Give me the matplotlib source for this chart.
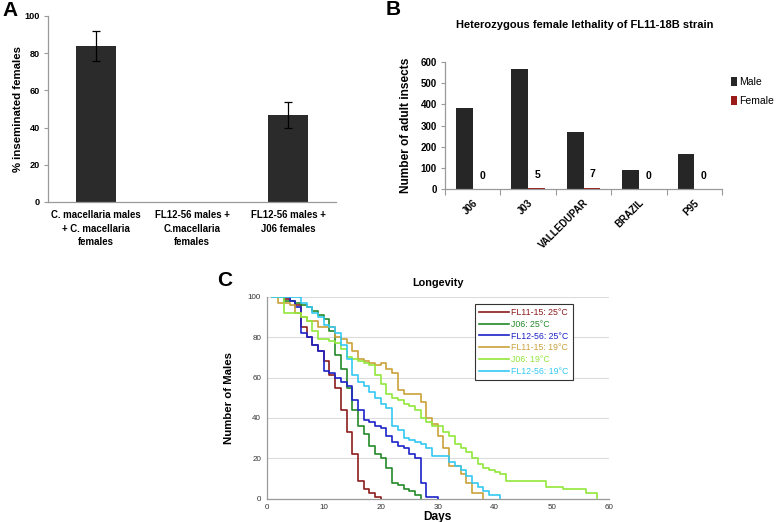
import matplotlib
matplotlib.use("Agg")
import matplotlib.pyplot as plt

plt.rcParams['font.family'] = ['Liberation Sans', 'DejaVu Sans']

# ---------------- Panel A data ----------------
a_categories = ["C. macellaria males\n+ C. macellaria\nfemales",
                "FL12-56 males +\nC.macellaria\nfemales",
                "FL12-56 males +\nJ06 females"]
a_values = [84, 0, 47]
a_errors = [8, 0, 7]
a_yticks = [0, 20, 40, 60, 80, 100]

# ---------------- Panel B data ----------------
b_categories = ["J06", "J03", "VALLEDUPAR", "BRAZIL", "P95"]
b_male = [380, 565, 271, 91, 166]
b_female = [0, 5, 7, 0, 0]
b_yticks = [0, 100, 200, 300, 400, 500, 600]

# ---------------- Panel C data ----------------
c_labels = ["FL11-15: 25°C", "J06: 25°C", "FL12-56: 25°C",
            "FL11-15: 19°C", "J06: 19°C", "FL12-56: 19°C"]
c_colors = ["#8b1c1c", "#248a2a", "#1c22c8", "#c9a23a", "#92e83c", "#33c8f2"]

fl1115_25_days = [1, 3, 4, 5, 6, 7, 8, 9, 10, 11, 12, 13, 14, 15, 16, 17, 18, 19, 20]
fl1115_25_vals = [100, 99, 98, 96, 85, 80, 76, 73, 68, 61, 55, 44, 33, 22, 9, 5, 3, 1, 0]

j06_25_days = [1, 3, 5, 6, 7, 8, 9, 10, 11, 12, 13, 14, 15, 16, 17, 18, 19, 20, 21, 22, 23, 24, 25, 26, 27]
j06_25_vals = [100, 98, 97, 96, 95, 93, 91, 89, 83, 71, 64, 55, 44, 36, 32, 26, 22, 20, 15, 8, 7, 5, 4, 2, 0]

fl1256_25_days = [1, 4, 5, 6, 7, 8, 9, 10, 11, 12, 13, 14, 15, 16, 17, 18, 19, 20, 21, 22, 23, 24, 25, 26, 27, 28, 30]
fl1256_25_vals = [100, 98, 95, 82, 80, 76, 73, 63, 62, 60, 58, 56, 49, 44, 39, 38, 36, 35, 31, 28, 26, 25, 22, 20, 8, 1, 0]

fl1115_19_days = [1, 2, 4, 5, 6, 7, 9, 12, 13, 14, 15, 16, 17, 18, 19, 20, 21, 22, 23, 24, 27, 28, 29, 30, 31, 32, 34, 35, 36, 38]
fl1115_19_vals = [100, 97, 96, 92, 90, 88, 85, 80, 79, 77, 73, 69, 68, 67, 66, 67, 64, 62, 54, 52, 48, 40, 37, 31, 25, 16, 12, 8, 3, 0]

j06_19_days = [1, 3, 6, 7, 8, 9, 11, 12, 13, 14, 15, 16, 17, 18, 19, 20, 21, 22, 23, 24, 25, 26, 27, 28, 29, 31, 32, 33, 34, 35, 36, 37, 38, 39, 40, 41, 42, 49, 52, 56, 58]
j06_19_vals = [100, 92, 90, 88, 83, 79, 78, 77, 74, 70, 69, 68, 67, 66, 61, 57, 52, 50, 49, 47, 46, 44, 40, 38, 36, 33, 31, 27, 25, 23, 20, 17, 15, 14, 13, 12, 9, 6, 5, 3, 0]

fl1256_19_days = [1, 6, 7, 8, 9, 10, 11, 12, 13, 14, 15, 16, 17, 18, 19, 20, 21, 22, 23, 24, 25, 26, 27, 28, 29, 32, 33, 34, 35, 36, 37, 38, 39, 41]
fl1256_19_vals = [100, 97, 95, 92, 90, 86, 85, 82, 76, 69, 61, 58, 56, 53, 50, 47, 45, 36, 34, 30, 29, 28, 27, 25, 21, 18, 16, 14, 11, 8, 6, 4, 2, 0]

c_series = [(fl1115_25_days, fl1115_25_vals), (j06_25_days, j06_25_vals),
            (fl1256_25_days, fl1256_25_vals), (fl1115_19_days, fl1115_19_vals),
            (j06_19_days, j06_19_vals), (fl1256_19_days, fl1256_19_vals)]
c_xticks = [0, 10, 20, 30, 40, 50, 60]
c_yticks = [0, 20, 40, 60, 80, 100]

W, H = 777, 522
fig = plt.figure(figsize=(W / 100, H / 100), dpi=100)


def ax_rect(l, t, r, b):
    return [l / W, 1 - b / H, (r - l) / W, (b - t) / H]


spine_gray = "#9a9a9a"

# ---------------- Panel A ----------------
axA = fig.add_axes(ax_rect(48, 16, 336, 202))
xa = list(range(len(a_categories)))
axA.bar(xa, a_values, width=0.41, color="#2b2b2b", zorder=2)
for x, v, e in zip(xa, a_values, a_errors):
    if v > 0:
        axA.errorbar(x, v, yerr=e, fmt='none', ecolor='black', elinewidth=0.9,
                     capsize=3, capthick=0.9, zorder=3)
axA.set_xlim(-0.5, 2.5)
axA.set_ylim(0, 100)
axA.set_yticks(a_yticks)
axA.set_xticks(xa)
axA.set_xticklabels(a_categories, fontsize=6.9, fontweight='bold', linespacing=1.4)
axA.tick_params(axis='y', labelsize=6.6, length=3, color=spine_gray, width=0.8, pad=3)
axA.tick_params(axis='x', length=0, pad=6)
for lab in axA.get_yticklabels():
    lab.set_fontweight('bold')
for s in ['top', 'right']:
    axA.spines[s].set_visible(False)
for s in ['left', 'bottom']:
    axA.spines[s].set_color(spine_gray)
    axA.spines[s].set_linewidth(0.9)
axA.set_ylabel("% inseminated females", fontsize=8.2, fontweight='bold', labelpad=1)
fig.text(2 / W, 1 - 1 / H, "A", fontsize=15, fontweight='bold', va='top', ha='left')

# ---------------- Panel B ----------------
axB = fig.add_axes(ax_rect(445, 61.7, 722, 189.3))
xb = list(range(len(b_categories)))
bw = 0.3
axB.bar([x - bw / 2 for x in xb], b_male, width=bw, color="#262626", label="Male", zorder=2)
axB.bar([x + bw / 2 for x in xb], b_female, width=bw, color="#9b1b1b", label="Female", zorder=2)
for x, v in zip(xb, b_female):
    axB.text(x + bw / 2 + 0.02, v + 40, str(v), ha='center', va='bottom',
             fontsize=7.5, fontweight='bold')
axB.set_xlim(-0.5, 4.5)
axB.set_ylim(0, 600)
axB.set_yticks(b_yticks)
axB.set_xticks(xb)
axB.set_xticklabels(b_categories, rotation=45, ha='right', rotation_mode='anchor',
                    fontsize=7, fontweight='bold')
axB.set_xticks([x - 0.5 for x in range(len(b_categories) + 1)], minor=True)
axB.tick_params(axis='x', which='major', length=0, pad=6)
axB.tick_params(axis='x', which='minor', length=4, color=spine_gray, width=0.8)
axB.tick_params(axis='y', labelsize=7, length=3, color=spine_gray, width=0.8, pad=3)
for lab in axB.get_yticklabels():
    lab.set_fontweight('bold')
for s in ['top', 'right']:
    axB.spines[s].set_visible(False)
for s in ['left', 'bottom']:
    axB.spines[s].set_color(spine_gray)
    axB.spines[s].set_linewidth(0.9)
axB.set_ylabel("Number of adult insects", fontsize=8.6, fontweight='bold', labelpad=6)
fig.text(585 / W, 1 - 25 / H, "Heterozygous female lethality of FL11-18B strain",
         fontsize=8, fontweight='bold', ha='center', va='center')
legB = axB.legend(loc='upper left', bbox_to_anchor=(1.01, 0.93), frameon=False,
                  fontsize=7.5, handlelength=0.6, handleheight=0.9, handletextpad=0.15,
                  labelspacing=0.9, borderaxespad=0.2)
fig.text(386 / W, 1 - 0 / H, "B", fontsize=15, fontweight='bold', va='top', ha='left')

# ---------------- Panel C ----------------
axC = fig.add_axes(ax_rect(266.7, 296.7, 608.7, 498.7))
for (d, v), col, lab in zip(c_series, c_colors, c_labels):
    axC.step(d, v, where='post', color=col, lw=1.2, label=lab, zorder=3)
axC.set_xlim(0, 60)
axC.set_ylim(0, 100)
axC.set_xticks(c_xticks)
axC.set_yticks(c_yticks)
axC.yaxis.grid(True, color="#dcdcdc", lw=0.8, zorder=0)
axC.tick_params(axis='both', labelsize=5.8, length=0, pad=4, labelcolor="#333333")
for s in ['top', 'right']:
    axC.spines[s].set_visible(False)
for s in ['left', 'bottom']:
    axC.spines[s].set_color(spine_gray)
    axC.spines[s].set_linewidth(0.9)
axC.set_title("Longevity", fontsize=7.8, fontweight='bold', pad=8)
axC.set_xlabel("Days", fontsize=8.6, fontweight='bold', labelpad=0)
axC.set_ylabel("Number of Males", fontsize=8.2, fontweight='bold', labelpad=10)
legC = axC.legend(loc='upper left', bbox_to_anchor=(0.609, 0.964), fontsize=6.3,
                  frameon=True, fancybox=False, edgecolor="#333333", framealpha=1,
                  handlelength=3.4, handletextpad=0.3, labelspacing=0.32,
                  borderpad=0.45, borderaxespad=0)
legC.get_frame().set_linewidth(0.8)
for txt, col in zip(legC.get_texts(), c_colors):
    txt.set_color(col)
fig.text(217 / W, 1 - 271 / H, "C", fontsize=15, fontweight='bold', va='top', ha='left')

fig.savefig("out.png", dpi=100)
